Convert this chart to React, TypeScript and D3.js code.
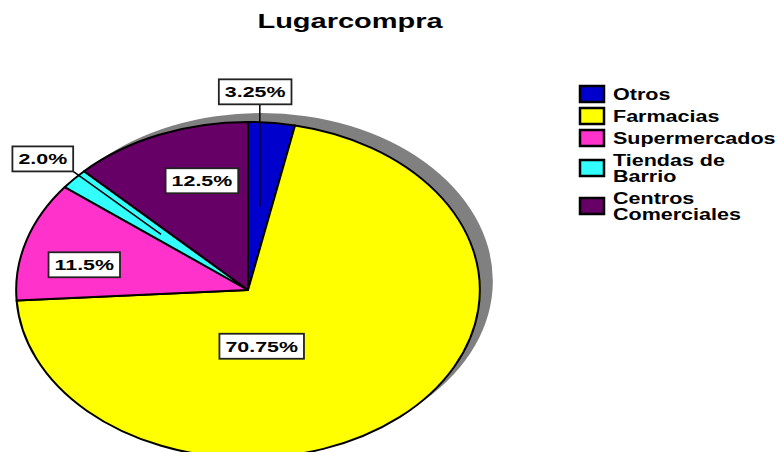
import * as d3 from 'd3';

const categories = ['Otros', 'Farmacias', 'Supermercados', 'Tiendas de Barrio', 'Centros Comerciales'];
const percents = [3.25, 70.75, 11.5, 2.0, 12.5];
const sliceLabels = ['3.25%', '70.75%', '11.5%', '2.0%', '12.5%'];
const legendLines = [['Otros'], ['Farmacias'], ['Supermercados'], ['Tiendas de', 'Barrio'], ['Centros', 'Comerciales']];
const colors = ['#0000cc', '#ffff00', '#ff33cc', '#33ffff', '#660066'];

// where each label box sits: angle in degrees (clockwise from 12 o'clock), radius as a fraction of the pie
const labelSpots = [
  { angle: 1.5, r: 1.18, leader: true },
  { angle: 170, r: 0.34, leader: false },
  { angle: 282, r: 0.722, leader: false },
  { angle: 311.4, r: 1.18, leader: true },
  { angle: 343, r: 0.68, leader: false },
];

const W = 778;
const H = 452;
const SX = 1.38; // the original is stretched sideways
const cx = 248;
const cy = 290;
const ry = 168;
const rx = ry * SX;
const FONT = "'Liberation Sans', Arial, sans-serif";

let ctx: CanvasRenderingContext2D | null = null;
const measure = (txt: string, size: number) => {
  if (!ctx) ctx = document.createElement('canvas').getContext('2d');
  if (!ctx) return txt.length * size * 0.56;
  ctx.font = `bold ${size}px ${FONT}`;
  return ctx.measureText(txt).width;
};

const App = () => {
  const pie = d3.pie<number>().sort(null).value((d) => d).startAngle(0).endAngle(2 * Math.PI);
  const arcs = pie(percents);
  const arcGen = d3.arc<d3.PieArcDatum<number>>().innerRadius(0).outerRadius(ry);

  const toScreen = (p: [number, number]): [number, number] => [cx + p[0] * SX, cy + p[1]];

  const labels = arcs.map((a, i) => {
    const spot = labelSpots[i];
    const ang = (spot.angle * Math.PI) / 180;
    const pt = d3.arc()
      .innerRadius(ry * spot.r)
      .outerRadius(ry * spot.r)
      .startAngle(ang)
      .endAngle(ang)
      .centroid({} as any) as [number, number];
    const [lx, ly] = toScreen(pt);
    const tw = measure(sliceLabels[i], 15.5) * SX;
    const bw = tw + 12;
    const bh = 25;
    const box = { x: lx - bw / 2, y: ly - bh / 2, w: bw, h: bh };
    let leader: [number, number, number, number] | null = null;
    if (spot.leader) {
      const [ax, ay] = toScreen(arcGen.centroid(a));
      const px = Math.max(box.x, Math.min(box.x + box.w, ax));
      const py = Math.max(box.y, Math.min(box.y + box.h, ay));
      leader = [ax, ay, px, py];
    }
    return { lx, ly, box, leader, text: sliceLabels[i] };
  });

  // legend rows
  let lineY = 94 - 22;
  const legendRows = legendLines.map((lines, i) => {
    const ys = lines.map((_, j) => (lineY = j === 0 ? lineY + 22 : lineY + 16));
    const mid = (ys[0] + ys[ys.length - 1]) / 2;
    return { ys, mid, lines, color: colors[i], key: categories[i] };
  });

  return (
    <svg width={W} height={H} style={{ position: 'absolute', left: 0, top: 0, background: '#fff' }}>
      <defs>
        <filter id="soft" x="-10%" y="-10%" width="120%" height="120%">
          <feGaussianBlur stdDeviation="0.6" />
        </filter>
      </defs>

      <g transform={`translate(350, 28) scale(${SX}, 1)`}>
        <text textAnchor="middle" fontFamily={FONT} fontWeight="bold" fontSize={21} fill="#000">
          Lugarcompra
        </text>
      </g>

      {/* shadow */}
      <ellipse cx={cx + 13} cy={cy - 9} rx={rx} ry={ry} fill="#808080" filter="url(#soft)" />

      <g transform={`translate(${cx}, ${cy}) scale(${SX}, 1)`}>
        {arcs.map((a, i) => (
          <path
            key={categories[i]}
            d={arcGen(a) || ''}
            fill={colors[i]}
            stroke="#000"
            strokeWidth={2}
            strokeLinejoin="round"
            vectorEffect="non-scaling-stroke"
          />
        ))}
      </g>

      {labels.map((l) => (
        <g key={l.text}>
          {l.leader && (
            <line x1={l.leader[0]} y1={l.leader[1]} x2={l.leader[2]} y2={l.leader[3]} stroke="#000" strokeWidth={1.5} />
          )}
          <rect x={l.box.x} y={l.box.y} width={l.box.w} height={l.box.h} fill="#fff" stroke="#222" strokeWidth={1.8} />
          <g transform={`translate(${l.lx}, ${l.ly}) scale(${SX}, 1)`}>
            <text textAnchor="middle" dy="0.36em" fontFamily={FONT} fontWeight="bold" fontSize={15.5} fill="#000">
              {l.text}
            </text>
          </g>
        </g>
      ))}

      {legendRows.map((r) => (
        <g key={r.key}>
          <rect x={580} y={r.mid - 8} width={24} height={16} fill={r.color} stroke="#000" strokeWidth={2.5} />
          {r.lines.map((t, j) => (
            <g key={t} transform={`translate(613, ${r.ys[j]}) scale(${SX}, 1)`}>
              <text dy="0.36em" fontFamily={FONT} fontWeight="bold" fontSize={15.6} fill="#000">
                {t}
              </text>
            </g>
          ))}
        </g>
      ))}
    </svg>
  );
};

export default App;
